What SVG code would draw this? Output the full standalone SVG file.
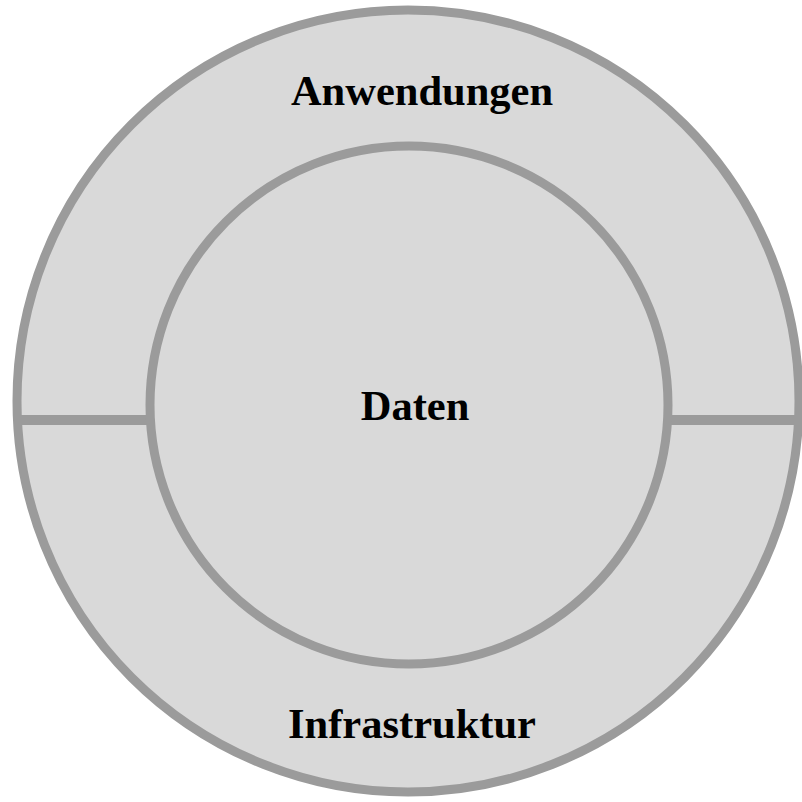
<svg xmlns="http://www.w3.org/2000/svg" width="802" height="802" viewBox="0 0 802 802">
<style>
.ring{fill:#d9d9d9;stroke:#9b9b9b;stroke-width:9}
.div{stroke:#9b9b9b;stroke-width:10;fill:none}
.lbl{font-family:"Liberation Serif","Times New Roman",serif;font-weight:bold;font-size:42.5px;fill:#000;text-anchor:middle}
</style>
<rect width="802" height="802" fill="#ffffff"/>
<g id="outer">
<circle class="ring" cx="408" cy="401" r="391"/>
</g>
<g id="connectors">
<line class="div" x1="18" y1="420" x2="150" y2="420"/>
<line class="div" x1="668" y1="420" x2="802" y2="420"/>
</g>
<g id="inner">
<circle class="ring" cx="409" cy="405" r="259"/>
</g>
<g id="anwendungen"><text class="lbl" x="422" y="105">Anwendungen</text></g>
<g id="daten"><text class="lbl" x="415" y="420">Daten</text></g>
<g id="infrastruktur"><text class="lbl" x="412" y="738">Infrastruktur</text></g>
</svg>
